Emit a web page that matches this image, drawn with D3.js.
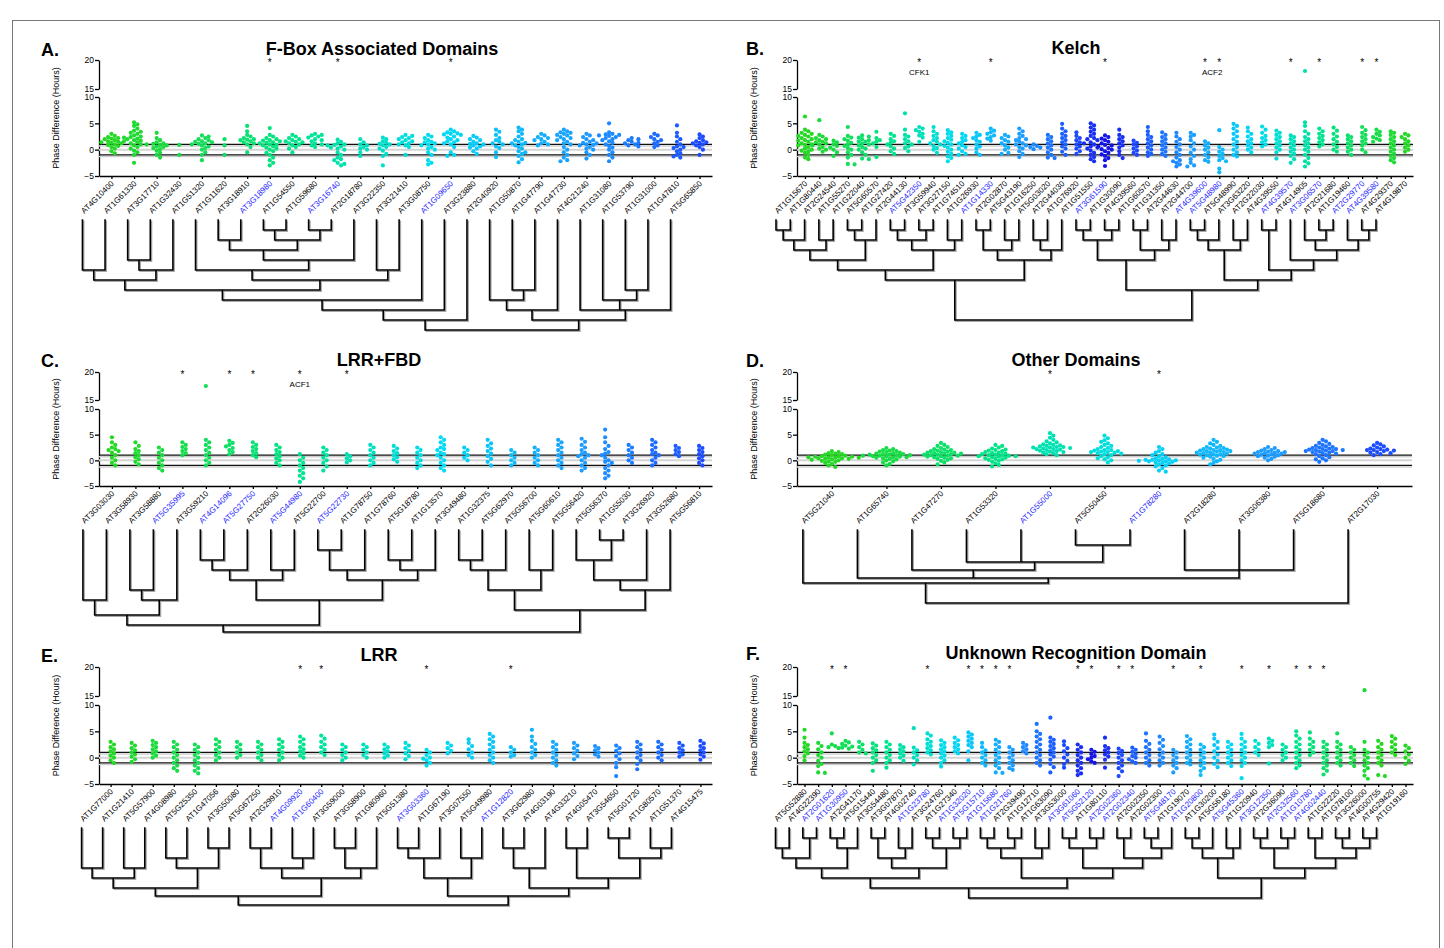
<!DOCTYPE html>
<html lang="en">
<head>
<meta charset="UTF-8">
<title>F-box phase differences</title>
<script src="https://d3js.org/d3.v7.min.js"></script>
<style>
  body { margin: 0; background: #fff; }
  svg text { font-family: Arial, "Liberation Sans", sans-serif; }
  .gene { font-size: 8px; }
  .axis text { font-size: 8.5px; font-family: Arial, "Liberation Sans", sans-serif; }
  .axis path, .axis line { stroke: #000; stroke-width: 1.3px; }
  .ytitle { font-size: 9px; }
  .ptitle { font-size: 18px; font-weight: bold; }
  .letter { font-size: 18px; font-weight: bold; }
  .star { font-size: 10px; }
  .note { font-size: 8px; }
</style>
</head>
<body>
<svg id="fig" width="1444" height="948"></svg>
<script>
// ---------- panel A : F-Box Associated Domains ----------
const genesA = ["AT4G10400","AT1G61330","AT3G17710","AT1G32430","AT1G51320","AT1G11620","AT3G18910","AT3G18980","AT1G54550","AT1G59680","AT3G16740","AT2G18780","AT3G22350","AT3G21410","AT3G08750","AT1G09650","AT3G23880","AT2G40920","AT1G50870","AT1G47790","AT1G47730","AT4G21240","AT1G31080","AT1G53790","AT1G31000","AT1G47810","AT5G65850"];
const sigA = ["AT3G18980","AT3G16740","AT1G09650"];
const valuesA = [
  "3 2.6 2.4 2.2 2 1.8 1.6 1.5 1.3 1.2 1 0.9 0.7 0.5 0.2 -0.3 -0.7 1.4 2.1",
  "5.2 4.8 4.5 4 3.6 3.2 3 2.7 2.5 2.3 2.1 2 1.8 1.6 1.4 1.2 1 0.8 0.5 0.2 -0.2 -0.5 -1 -2.5 1.7 2.4 3.4",
  "3.2 2.2 1.8 1.4 1.2 1 0.8 0.6 0.5 0.3 0.1 -0.2 -0.6 -1 -1.5 0.9 1.1",
  "0.9 -1",
  "2.7 2.5 2.2 2 1.8 1.6 1.4 1.2 1 0.8 0.6 0.3 0 -0.5 -1 -2 1.1 1.5",
  "2 0.8 -1",
  "4.5 3.5 2.8 2.5 2.2 2 1.8 1.6 1.4 1.2 1 0.5 -0.5 1.9",
  "4.1 2.8 2.5 2.2 2 1.8 1.6 1.4 1.2 1 0.8 0.6 0.4 0.2 0 -0.3 -0.6 -1 -1.5 -2 -2.5 -3 0.9 1.3 1.7",
  "2.8 2.5 2.2 2 1.8 1.6 1.4 1.2 1 0.8 0.5 0.2 -0.5 1.5",
  "3 2.8 2.5 2.3 2 1.8 1.6 1.2 1 0.8 0.5 2.7",
  "1.9 1.5 1.2 1 0.8 0.6 0.4 0.2 0 -0.5 -1 -1.5 -2 -2.5 -3 -1.8 -2.7 0.9",
  "2 1.4 1 0.8 0.5 0.2 0 -0.5 -1.2",
  "2.3 2 1.6 1.3 1 0.8 0.5 0.2 -0.2 -0.8 -1.2 -3 1.1",
  "2.8 2.6 2.4 2.2 2 1.8 1.6 1.4 1.2 1 0.8 0.5 -1",
  "2.8 2.5 2.2 1.8 1.5 1.2 1 0.8 0.5 0.2 0 -0.5 -1 -2 -2.8 -2.5 1.4",
  "3.8 3.5 3.3 3 2.8 2.5 2.3 2 1.8 1.6 1.4 1.2 1 0.5 -0.5 -1.2 -1 2.9 3.1",
  "2.6 2.3 2 1.8 1.5 1.2 1 0.8 0.6 0.4 0.2 -0.3 -0.8 1.1",
  "3.8 3.4 2.8 2.2 1.8 1.5 1.2 1 0.6 0.3 -0.5 -1.4",
  "4.2 3.8 3.5 3 2.5 2 1.8 1.5 1.2 1 0.8 0.5 0.2 -0.3 -0.8 -1.2 -1.8 -2.4 -0.5 1.3",
  "3 2.7 2.4 2.2 2 1.8 1.5 1.2 1 0.8",
  "3.8 3.5 3.2 3 2.7 2.4 2.2 2 1.8 1.5 1.2 1 0.5 0 -0.5 -1 -1.5 -2.2 -2 2.8 3.3",
  "3 2.7 2.4 2 1.8 1.5 1.2 1 0.8 0.5 0.2 0 -0.5 -1 -1.7 1.3 0.9",
  "5 3.3 3 2.8 2.6 2.4 2.2 2 1.8 1.6 1.3 1 0.7 0.4 0 -0.5 -1 -1.5 -2.2 2.9 2.7",
  "2.2 2 1.8 1.5 1.3 1.2 1 0.8 0.6",
  "3 2.7 2.4 2 1.8 1.5 1.2 0.8 0.5",
  "4.6 3.2 2.5 2 1.5 1 0.6 0.3 0 -0.3 -0.7 -1 -1.5 -1.3 0.5",
  "2.9 2.5 2.2 1.8 1.6 1.4 1.2 1 0.8 0.5 0 -1 1.3"
];
// leaves are gene indices, the number after ")" is the merge level
const treeA = "(((((((0,1)5,((2,3)4,4)5)6,((5,(((6,7)2,((8,9)1,(10,11)1)2)3,12)4)5,(13,14)5)6)7,15)8,16)9,17)10," +
              "(((18,(19,20)7)8,21)9,(22,(23,(24,25)7)8,26)9)10)11";

// ---------- panel B : Kelch ----------
const genesB = ["AT1G15670","AT1G80440","AT2G24540","AT1G55270","AT1G22040","AT5G60570","AT1G27420","AT2G44130","AT5G42350","AT3G59940","AT3G27150","AT1G74510","AT1G26930","AT1G14330","AT2G02870","AT5G43190","AT1G16250","AT5G03020","AT2G44030","AT1G76920","AT1G51550","AT3G61590","AT1G30090","AT4G39560","AT1G60570","AT1G31350","AT2G44630","AT2G44700","AT4G39600","AT5G48980","AT5G48990","AT3G63220","AT2G22030","AT4G39550","AT4G39570","AT4G14905","AT3G06570","AT2G21680","AT1G19460","AT2G29770","AT4G39580","AT4G29370","AT4G19870"];
const sigB = ["AT5G42350","AT1G14330","AT3G61590","AT4G39600","AT5G48980","AT4G39570","AT3G06570","AT2G29770","AT4G39580"];
const valuesB = [
  "6.3 3.8 3.5 3.2 3 2.8 2.5 2.2 2 1.8 1.5 1.2 1 0.8 0.5 0.2 0 -0.3 -0.6 -1 -1.5 -1.8 2.6 1.7 0.9 -0.2",
  "5.6 2.8 2.5 2.2 2 1.8 1.5 1.2 1 0.8 0.5 0.2 0 -0.4 1.4",
  "1.7 1.4 1 0.7 0.4 0 -0.5 -1.2",
  "4.3 2.6 2.3 2 1.7 1.3 1 0.7 0.3 0 -0.5 -1 -1.5 -2.8 -2.7",
  "2.7 2.5 2.3 2 1.8 1.5 1.2 1 0.8 0.5 0.2 0 -0.5 -1 -1.8 -1.7 1.6",
  "3.4 2.2 1.8 1.5 1.2 0.5 -1.4",
  "3 2.6 2 1.6 1.3 1 0.6 0.2 -0.3 -0.8",
  "6.9 3.8 2.8 2.5 2 1.6 1.2 1 0.6 0.3 -0.3",
  "4.3 4 3.7 3.4 3 2.7 2.3 1.5",
  "4.3 3.5 3 2.6 2.2 1.8 1.5 1.2 1 0.7 0.3 0 -0.6",
  "3.7 3.3 3 2.6 2.2 1.9 1.6 1.3 1 0.7 0.4 0 -0.4 -0.8 -1.3 -2.2 -1.6",
  "3 2.6 2.2 1.8 1.5 1.2 0.8 0.5 0.2 -0.3 -0.8 -1",
  "3.2 2.8 2.5 2.2 1.8 1.5 1 0.6 0.2 -0.5 -1",
  "4 3.6 3.3 3 2.7 2.4 2.1 1.7",
  "2.8 2.5 2.2 1.8 1.5 1.2 0.8 0.4 0 -0.6 -0.8",
  "4 3.5 3 2.6 2.2 1.8 1.5 1.2 0.8 0.5 0.2 -0.3 -0.8 -1.4 2 1",
  "1 0.7 0.4 0.1 0.5",
  "2.8 2.4 2 1.6 1.2 0.8 0.4 0 -0.5 -1 -1.6 -1.5",
  "4.9 4 3.5 3 2.6 2.2 1.8 1.4 1 0.6 0.2 -0.4 -1",
  "3.3 2.6 2.2 1.8 1.4 1 0.6 0.2 -0.3 -0.8",
  "5 4.6 4.2 3.8 3.4 3 2.6 2.2 1.8 1.4 1 0.6 0.2 -0.2 -0.6 -1 -1.4 -1.8 -2.2 2 1.2 0.4",
  "2.7 2.4 2.1 1.8 1.5 1.2 0.9 0.6 0.3 0 -0.3 -0.6 -0.9 -1.2 -1.6 -2 -3.1 0.1 0.8",
  "3.8 2.8 2.4 2 1.6 1.2 0.8 0.4 -0.3 -1 -1.6",
  "1.7 1.3 1 0.6 0.2 -0.2 -0.6 -1",
  "4.3 3.5 2.8 2.4 2 1.6 1.2 0.8 0.4 0 -0.5 -1.2 -0.8",
  "3.3 2.8 2.4 2 1.6 1.2 0.8 0.4 0 -0.4 -0.8 -1.2",
  "3.2 2.5 2 1.5 1 0.5 0 -0.5 -1 -1.5 -2 -2.5 -2.8 -3.2 -2.2",
  "3.2 2.5 1.8 1.2 0.6 0 -0.6 -1.2 -1.8 -2.5 -3 -3.2 2.8",
  "1.6 1.2 0.8 0.4 0 -0.5 -1 -1.5 -2 -2.3",
  "3.7 0.5 0 -0.4 -0.8 -1.2 -1.6 -2 -2.2 -4.3 -3.6",
  "4.9 4.5 4 3.5 3 2.5 2 1.5 1 0.5 0 -0.5 -1.3 -1",
  "4.2 3.5 3 2.5 2 1.6 1.2 0.8 0.4 0 -0.5",
  "4.4 3.8 3.2 2.6 2.2 1.8 1.4 1 0.6",
  "3.6 3.2 2.8 2.4 2 1.6 1.2 0.8 0.4 0 -0.5 -1.7",
  "2.7 2.4 2 1.6 1.2 0.8 0.4 0 -0.4 -0.8 -1.2 -1.8 -2.5",
  "18.1 5.2 4.5 3.5 3 2.4 2 1.6 1.2 0.8 0.4 0 -0.4 -1 -1.6 -2.2 -2.6 -3.2",
  "4 3.5 3 2.6 2.2 1.8 1.4 1 0.6",
  "4.2 3.6 3 2.5 2 1.5 1 0.5 0 -0.4",
  "2.7 2.4 2 1.6 1.2 0.8 0.4 0 -0.4 -1",
  "4.3 3.7 3.2 2.8 2.4 2 1.6 1.2 0.8 0 -0.5",
  "3.8 3.4 3 2.7 2.4 2.1 1.8 1.5",
  "3.5 3.2 2.8 2.4 2 1.6 1.2 0.8 0.4 0 -0.4 -0.8 -1.2 -1.6 -2 -2.4",
  "3 2.7 2.4 2 1.6 1.2 0.8 0.4 0 -0.4"
];
const treeB = "(((((((0,1)1,2)2,(3,4)2)3,((5,6)1,7)2)4,(((8,9)1,(10,11)1)2,(12,13)2)3)5,(((14,15)1,(16,17)2)3,((18,19)2,20)3)4)6," +
              "((((21,22)1,(23,24)1)2,((25,26)1,(27,28)2)3)4,((((29,30)1,31)2,(32,33)2)3,((34,35)1,(36,((37,(38,39)1)2,(40,(41,42)1)2)3)4)5)6)7)10";

// ---------- panel C : LRR+FBD ----------
const genesC = ["AT3G03030","AT3G58930","AT3G58880","AT5G35995","AT3G59210","AT4G14096","AT5G27750","AT2G26030","AT5G44980","AT5G22700","AT5G22730","AT1G78750","AT1G78760","AT5G18780","AT1G13570","AT3G49480","AT1G32375","AT5G62970","AT5G56700","AT5G60610","AT5G56420","AT5G56370","AT1G55030","AT3G26920","AT3G52680","AT5G56810"];
const sigC = ["AT5G35995","AT4G14096","AT5G27750","AT5G44980","AT5G22730"];
const valuesC = [
  "4.5 3.5 3 2.5 2 1.5 1 0.5 0 -0.5 -1 1.8 2.2",
  "3.5 2.8 2.2 1.8 1.4 1 0.6 0.2 -0.3 -0.8",
  "2.5 2 1.5 1 0.5 0 -0.5 -1 -1.5 -2",
  "3.5 3 2.6 2.2 1.8 1.4 1",
  "17.5 4 3.5 3 2.5 2 1.5 1 0.5 0 -0.5 -1",
  "3.8 3.4 3 2.7 2.4 2 1.6 1.2",
  "3.5 3 2.6 2.2 1.8 1.4 1 0.6",
  "3 2.5 2 1.6 1.2 0.8 0.4 0 -0.5 -1",
  "1.2 0.5 0 -0.5 -1 -1.5 -2 -2.5 -3 -3.5 -4.2",
  "2.5 2 1.5 1 0.5 0 -0.5 -1.2 -2",
  "1.2 0.8 0.4 0 -0.4",
  "3 2.5 2 1.5 1 0.5 0 -0.5 -1",
  "2.8 2.3 1.8 1.4 1 0.6 0.2 -0.3",
  "2.5 2 1.5 1 0.5 0 -0.5 -1 -1.5",
  "4.5 4 3.5 3 2.5 2 1.5 1 0.5 0 -0.5 -1 -1.5 -2 1.2 2.2",
  "2.5 2 1.5 1 0.5 0",
  "4 3.3 2.8 2.3 1.8 1.3 0.8 0.3 -0.3 -1",
  "2 1.5 1 0.5 0 -0.5 -1",
  "2.5 2 1.5 1 0.5 0 -0.5 -1",
  "4 3.5 3 2.5 2 1.5 1 0.5 0 -0.5 -1 -1.5",
  "4.2 3.6 3 2.5 2 1.5 1 0.5 0 -0.5 -1 -1.5 -2 1.2 0.8",
  "6 4.5 3.5 2.8 2.2 1.6 1 0.5 0 -0.5 -1 -1.5 -2 -2.5 -3 -3.5 1.3 -0.3",
  "3 2.5 2 1.5 1 0.5 0 -0.5",
  "4 3.5 3 2.5 2 1.5 1 0.5 0 -0.5 -1 1.2",
  "2.8 2.4 2 1.6 1.2 0.8",
  "2.8 2.4 2 1.6 1.2 0.8 0.4 0 -0.5 -1"
];
const treeC = "((((0,1)7,((2,3)6,4)7)8.5,((((5,6)3,7)4,(8,9)4)5,(((10,11)2,12)4,((13,14)3,15)4)5)7)9.5," +
              "((((16,17)3,18)4,(19,20)4)6,(((21,(22,23)1)3,24)5,25)6)8)10.2";

// ---------- panel D : Other Domains ----------
const genesD = ["AT5G21040","AT1G65740","AT1G47270","AT1G53320","AT1G55000","AT5G50450","AT1G78280","AT2G18280","AT3G06380","AT5G18680","AT2G17030"];
const sigD = ["AT1G55000","AT1G78280"];
const valuesD = [
  "1.8 1.6 1.4 1.3 1.2 1.1 1 0.9 0.8 0.8 0.7 0.6 0.6 0.5 0.5 0.4 0.3 0.3 0.2 0.1 0 -0.1 -0.2 -0.3 -0.5 -0.7 -1 -1.3 0.4 0.7",
  "2.4 2.2 2 1.9 1.8 1.7 1.6 1.5 1.4 1.3 1.2 1.2 1.1 1 1 0.9 0.8 0.8 0.7 0.6 0.5 0.4 0.3 0.2 0 -0.2 -0.4 -0.7 -1 0.9 1.1 0.6",
  "3.4 3 2.8 2.6 2.4 2.2 2.1 2 1.9 1.8 1.7 1.6 1.5 1.4 1.3 1.2 1.1 1 0.9 0.8 0.7 0.6 0.5 0.4 0.3 0.1 -0.1 -0.4 -0.8 1.3 1.5 0.9 1.1",
  "3 2.8 2.5 2.3 2.1 2 1.9 1.8 1.6 1.5 1.4 1.3 1.2 1.1 1 0.9 0.8 0.7 0.6 0.5 0.4 0.3 0.2 0.1 -0.1 -0.3 -0.6 -0.9 -1.2 1 0.8",
  "5.3 4.8 4.4 4 3.7 3.5 3.3 3.1 3 2.9 2.8 2.7 2.6 2.5 2.4 2.3 2.2 2.1 2 1.9 1.8 1.7 1.6 1.5 1.4 1.2 1 2.5 2.6 2.2",
  "4.8 4.3 3.9 3.6 3.3 3 2.8 2.6 2.4 2.2 2 1.9 1.8 1.7 1.6 1.5 1.4 1.3 1.2 1 0.8 0.6 0.4 0.2 0 -0.4 1.6 2",
  "2.6 2.2 1.8 1.5 1.2 1 0.8 0.6 0.4 0.3 0.2 0.1 0 -0.1 -0.2 -0.3 -0.4 -0.5 -0.6 -0.8 -1 -1.2 -1.5 -2 -2.2 0 0.1 -0.2",
  "4 3.6 3.3 3 2.8 2.6 2.5 2.4 2.3 2.2 2.1 2 1.9 1.8 1.7 1.6 1.5 1.4 1.3 1.2 1.1 1 0.9 0.8 0.7 0.5 0.3 0.1 -0.2 -0.5 -0.8 1.5 1.8 2 1.2",
  "2.6 2.4 2.2 2 1.9 1.8 1.7 1.6 1.5 1.4 1.3 1.2 1.1 1 0.9 0.8 0.7 0.5 0.3 0 1.3 1.6",
  "4 3.7 3.4 3.2 3 2.8 2.7 2.6 2.5 2.4 2.3 2.2 2.1 2 1.9 1.8 1.7 1.6 1.5 1.4 1.3 1.2 1 0.8 0.6 0.4 0.2 0 -0.3 2.2 2 1.8",
  "3.4 3.1 2.9 2.7 2.5 2.3 2.2 2.1 2 1.9 1.8 1.6 1.5 1.4 1.2 1 2"
];
const treeD = "((0,(1,(2,(3,4,(5,6)1.5)3.2)4,(7,8,9)4)4.8)5.3,10)7.3";

// ---------- panel E : LRR ----------
const genesE = ["AT1G77000","AT1G21410","AT5G57900","AT4G08980","AT5G25350","AT1G47056","AT3G50080","AT5G67250","AT2G29910","AT4G09920","AT1G60400","AT3G59000","AT3G58900","AT1G80960","AT5G51380","AT3G03360","AT1G67190","AT3G07550","AT5G49980","AT1G12820","AT3G62980","AT4G03190","AT4G33210","AT4G05470","AT3G54650","AT5G01720","AT1G80570","AT1G51370","AT4G15475"];
const sigE = ["AT4G09920","AT1G60400","AT3G03360","AT1G12820"];
const valuesE = [
  "3 2.5 2 1.6 1.2 0.8 0.4 0 -0.5 -1",
  "2.8 2.3 1.8 1.4 1 0.6 0.2 -0.3 -0.8",
  "3.2 2.8 2.4 2 1.6 1.2 0.8 0.4 0",
  "3 2.5 2 1.5 1 0.5 0 -0.5 -1 -1.5 -2.5 -2",
  "2.5 2 1.5 1 0.5 0 -0.5 -1 -1.5 -2 -2.5 -3",
  "3.5 3 2.5 2 1.5 1 0.5 0 -0.5",
  "3 2.5 2 1.5 1 0.5 0",
  "3 2.5 2 1.5 1 0.5 0 -0.5",
  "3.5 3 2.5 2 1.5 1 0.5 0 -0.5",
  "4 3.5 3 2.5 2 1.6 1.2 0.8 0.4 0",
  "4.2 3.6 3 2.5 2 1.5 1 0.5",
  "2.5 2 1.5 1 0.5 0 -0.5",
  "2.5 2 1.5 1 0.5 0",
  "2.5 2 1.6 1.2 0.8 0.4 0",
  "2.8 2.3 1.8 1.3 0.8 0.3 -0.3",
  "1.5 1 0.5 0 -0.5 -1 -1.5 -0.2",
  "2.8 2.3 1.8 1.3 0.8",
  "3.5 2.8 2.2 1.6 1 0.5 0",
  "4.5 4 3.5 3 2.5 2 1.5 1 0.5 0 -0.5 -1",
  "2 1.5 1 0.5 0.2",
  "5.3 4 3.2 2.6 2 1.5 1 0.5 0",
  "3 2.5 2 1.5 1 0.5 0 -0.5 -1 -1.5",
  "2.8 2.3 1.8 1.3 0.8 0.3 -0.3",
  "2.2 1.8 1.4 1 0.6 0.2",
  "2.3 1.8 1.3 0.8 0.3 -0.3 -1 -1.8 -3.5",
  "3 2.5 2 1.5 1 0.5 0 -0.5 -1.2 -2.2",
  "3 2.5 2 1.5 1 0.5 0 -0.5",
  "2.8 2.3 1.8 1.4 1 0.6 0.2",
  "3.2 2.7 2.2 1.8 1.4 1 0.6 0.2 -0.4"
];
const treeE = "(((((0,1)4,(2,3)4)5,((4,5)3,(6,7)2)4)6,(((8,9)2,(10,11)3)4,((12,13)2,14)4)5)6.8," +
              "((((15,16)2,17)3,(18,19)3)5,(((20,21)2,22)4,((23,24)2,((25,26)1,(27,28)2)3)5)6)6.8)7.7";

// ---------- panel F : Unknown Recognition Domain ----------
const genesF = ["AT5G52880","AT4G22390","AT2G01620","AT1G30950","AT2G41170","AT5G15440","AT3G54480","AT3G07870","AT4G02740","AT1G23780","AT3G24760","AT1G27340","AT1G32020","AT5G15710","AT1G15680","AT1G21760","AT2G39490","AT1G12710","AT1G63090","AT3G53000","AT3G61060","AT5G52120","AT1G80110","AT2G02360","AT2G02340","AT2G02350","AT2G02300","AT5G48170","AT1G19070","AT1G20800","AT1G30200","AT5G56180","AT5G45360","AT1G20940","AT3G12350","AT2G36090","AT2G32560","AT1G10780","AT4G02440","AT1G22220","AT1G78100","AT3G26000","AT4G00755","AT4G29420","AT1G19160"];
const sigF = ["AT2G01620","AT1G30950","AT1G23780","AT1G32020","AT5G15710","AT1G15680","AT1G21760","AT3G61060","AT5G52120","AT2G02360","AT2G02340","AT5G48170","AT1G20800","AT5G45360","AT3G12350","AT2G32560","AT1G10780","AT4G02440"];
const valuesF = [
  "5.3 3.8 2.8 2.4 2 1.6 1.2 0.8 0.3 -0.5",
  "2.8 2.2 1.6 1 0.5 0 -0.6 -1.2 -1.6 -2.8 -2.9",
  "4.6 2.5 2.2 2 1.8",
  "3.2 2.9 2.6 2.3 2.1 1.9 1.7",
  "3 2.5 2 1.5 1 0.8",
  "2.7 2.3 1.8 1.4 1 0.5 0 -0.5 -1 -2.5",
  "3 2.5 2 1.5 1 0.5 0 -0.5 -1 -1.9",
  "2.4 2 1.6 1.2 0.8 0.4 0 -0.6",
  "5.6 1.9 1.4 1 0.5 0 -0.5 -1.3",
  "4.6 4.2 3.5 3 2.6 2.2 1.8 1.4 1 0.6",
  "3.3 2.8 2.4 2 1.6 1.2 0.8 0.4 0 -0.5 -1 -1.7",
  "3.8 3.3 2.8 2.4 2 1.6 1.2 0.8",
  "4.8 4.4 4 3.6 3.2 2.8 2.4 2 1.2 -0.5",
  "2.8 2 1.4 1 0.5 0 -0.5 -1 -1.5",
  "3.4 3 2.5 2 1.5 1 0.5 0 -0.5 -1 -1.5 -2 -2.8 -2.9",
  "2 1.5 1 0.5 0 -0.5 -1 -1.5 -2 -2.3",
  "2.8 2.4 2 1.6 1.2 0.8",
  "6.4 5 4.5 4 3.5 3 2.5 2 1.5 1 0.5 0 -0.5 -1.5 -1",
  "7.6 3.8 3.4 3 2.6 2.2 1.8 1.4 1 0.6 0.2 -0.4 -1.2 -1.8 -2.8",
  "3.1 2.4 1.8 1.2 0.6 0 -0.6 -1.2 -1.9",
  "2.5 2 1.5 1 0.5 0 -0.5 -1 -1.5 -2 -2.5 -3 -3.3",
  "1.5 1.1 0.7 0.3 0 -0.3 -0.7 -1",
  "3.8 2.2 1.8 1.4 1 0.6 0.2 -0.4 -1.9",
  "1.7 1.3 0.9 0.5 0 -0.5 -1 -1.5 -2 -2.6 -3.5",
  "1.9 1.5 1.1 0.7 0.3 0 -0.3 -0.7 -1",
  "4.6 3.2 2.6 2 1.5 1 0.5 0 -0.5 -1 -1.5",
  "4 3.4 2.8 2.2 1.6 1 0.5 0 -0.5 -1 -1.5",
  "1.5 1 0.5 0 -0.5 -1 -1.5 -2 -2.8",
  "4.1 3.5 3 2.5 2 1.5 1 0.5 0 -0.5 -1 -1.3",
  "2.5 2 1.5 1 0.5 0 -0.5 -1 -1.5 -2 -2.5 -3.3",
  "4.4 3.6 3 2.4 1.8 1.2 0.6 0 -0.6 -1.2 -1.8",
  "3 2.5 2 1.5 1 0.5 0 -0.5 -1 -1.6",
  "4.5 3.6 3 2.5 2 1.5 1 0.5 0 -0.5 -1 -1.6 -3.9",
  "3.2 2.6 2 1.5 1 0.5",
  "3.6 3.2 2.8 2.4 2 -1.1",
  "2.5 2 1.5 1 0.5 0 -0.5",
  "5 4.2 3.6 3 2.5 2 1.5 1 0.5 0 -0.5 -1 -1.5 -2",
  "4.8 3.6 3 2.5 2 1.5 1 0.5",
  "3 2.5 2 1.5 1 0.5 0 -0.5 -1 -1.5 -2 -2.5 -3.2",
  "4.6 3 2.5 2 1.5 1 0.5 0 -0.5 -1 -1.5",
  "2 1.5 1 0.5 0 -0.5 -1 -1.6",
  "16 3 1.5 1 0.5 0 -0.5 -1 -1.5 -2 -2.5 -3.4 -4",
  "3.2 2.6 2 1.5 1 0.5 0 -0.5 -1 -1.5 -3.5 -3.3",
  "4.1 3.6 3 2.5 2 1.5 1 0.5",
  "2.3 1.8 1.2 0.6 0 -0.6 -1.2"
];
const treeF = "((((((0,1)2,(2,3)1)3,((4,5)1,6)2)4,(((7,8)1,(9,10)2)3,((11,12)1,(13,14)1)2)4)5," +
              "((((15,16)1,(17,18)1)2,(19,20)2)3,(((21,22)1,(23,24)1)2,((25,26)1,((27,28)1,29)2)3)4)5)6," +
              "((((30,31)1,32)2,(33,34)2)3,(((35,36)1,(37,38)1)2,((39,40)1,((41,42)1,(43,44)1)2)3)4)5)7";

// ---------- layout ----------
const panels = [
  {letter: "A.", title: "F-Box Associated Domains", genes: genesA, values: valuesA, sig: sigA, tree: treeA,
   axisX: 99, axisEnd: 712, y20: 60, y15: 89, y10: 97, yB: 176, pad: 0.55, letterX: 41, titleX: 382, titleY: 55, ramp: "linear", notes: []},
  {letter: "B.", title: "Kelch", genes: genesB, values: valuesB, sig: sigB, tree: treeB,
   axisX: 797, axisEnd: 1413, y20: 60, y15: 89, y10: 97, yB: 176, pad: 0.56, letterX: 746, titleX: 1076, titleY: 54, ramp: "mirror",
   notes: [{a: 8, b: 8, text: "CFK1"}, {a: 28, b: 29, text: "ACF2"}]},
  {letter: "C.", title: "LRR+FBD", genes: genesC, values: valuesC, sig: sigC, tree: treeC,
   axisX: 99, axisEnd: 712, y20: 372, y15: 400, y10: 409, yB: 486, pad: 0.55, letterX: 41, titleX: 379, titleY: 366, ramp: "linear",
   notes: [{a: 8, b: 8, text: "ACF1"}]},
  {letter: "D.", title: "Other Domains", genes: genesD, values: valuesD, sig: sigD, tree: treeD,
   axisX: 797, axisEnd: 1412, y20: 372, y15: 400, y10: 409, yB: 486, pad: 0.64, letterX: 746, titleX: 1076, titleY: 366, ramp: "linear", notes: []},
  {letter: "E.", title: "LRR", genes: genesE, values: valuesE, sig: sigE, tree: treeE,
   axisX: 99, axisEnd: 712, y20: 667, y15: 696, y10: 705, yB: 784, pad: 0.55, letterX: 41, titleX: 379, titleY: 661, ramp: "linear", notes: []},
  {letter: "F.", title: "Unknown Recognition Domain", genes: genesF, values: valuesF, sig: sigF, tree: treeF,
   axisX: 797, axisEnd: 1413, y20: 667, y15: 696, y10: 705, yB: 784, pad: 0.55, letterX: 746, titleX: 1076, titleY: 659, ramp: "mirror", notes: []}
];

const ramp = d3.scaleLinear()
  .domain([0, 0.28, 0.5, 0.72, 0.9, 1])
  .range(["#24d824", "#00e48c", "#00dcf4", "#1c9cff", "#1c4cff", "#1414e6"]);

const svg = d3.select("#fig");
svg.append("rect").attr("x", 12.5).attr("y", 20.5).attr("width", 1427).attr("height", 940)
  .attr("fill", "none").attr("stroke", "#777").attr("stroke-width", 1);

function parseTree(s) {
  s = s.replace(/\s/g, "");
  let i = 0;
  function num() { let t = ""; while (i < s.length && /[0-9.]/.test(s[i])) t += s[i++]; return +t; }
  function node() {
    if (s[i] === "(") {
      i++;
      const children = [node()];
      while (s[i] === ",") { i++; children.push(node()); }
      i++;
      return {children, level: num()};
    }
    return {leaf: num(), level: 0};
  }
  return node();
}

// deterministic beeswarm: each dot takes the nearest free slot beside its column
function swarm(vals, cx, y, r) {
  const placed = [];
  const sorted = vals.slice().sort((a, b) => b - a);
  sorted.forEach(v => {
    const py = y(v);
    for (let k = 0; k < 60; k++) {
      const off = k === 0 ? 0 : (k % 2 ? 1 : -1) * Math.ceil(k / 2) * r * 1.6;
      const px = cx + off;
      if (placed.every(p => (p.x - px) ** 2 + (p.y - py) ** 2 >= (r * 1.75) ** 2)) {
        placed.push({x: px, y: py, v});
        break;
      }
    }
  });
  return placed;
}

panels.forEach(p => {
  const g = svg.append("g");
  const n = p.genes.length;
  const x = d3.scalePoint().domain(d3.range(n)).range([p.axisX, p.axisEnd]).padding(p.pad);
  const yHi = d3.scaleLinear().domain([15, 20]).range([p.y15, p.y20]);
  const yLo = d3.scaleLinear().domain([-5, 10]).range([p.yB, p.y10]);
  const y = v => v > 12 ? yHi(v) : yLo(v);
  const colorOf = i => {
    if (p.ramp === "linear") return ramp(0.9 * i / (n - 1));
    const c = 21;
    return ramp(Math.max(0, 1 - Math.abs(i - c) / c));
  };

  // titles
  g.append("text").attr("class", "letter").attr("x", p.letterX).attr("y", p.titleY + 1).text(p.letter);
  g.append("text").attr("class", "ptitle").attr("x", p.titleX).attr("y", p.titleY)
    .attr("text-anchor", "middle").text(p.title);

  // y axis with break
  g.append("g").attr("class", "axis").attr("transform", `translate(${p.axisX},0)`)
    .call(d3.axisLeft(yHi).tickValues([15, 20]).tickFormat(d3.format("d")).tickSize(4).tickSizeOuter(0));
  g.append("g").attr("class", "axis").attr("transform", `translate(${p.axisX},0)`)
    .call(d3.axisLeft(yLo).tickValues([-5, 0, 5, 10]).tickFormat(d3.format("d")).tickSize(4).tickSizeOuter(0));
  g.selectAll(".axis .tick text").attr("x", -5);
  g.append("text").attr("class", "ytitle")
    .attr("transform", `translate(${p.axisX - 40},${(p.y20 + p.yB) / 2}) rotate(-90)`)
    .attr("text-anchor", "middle").text("Phase Difference (Hours)");

  // x axis
  g.append("g").attr("class", "axis").attr("transform", `translate(0,${p.yB})`)
    .call(d3.axisBottom(x).tickSize(3).tickSizeOuter(0).tickFormat(""));

  // reference lines
  g.append("line").attr("x1", p.axisX).attr("x2", p.axisEnd).attr("y1", yLo(0)).attr("y2", yLo(0))
    .attr("stroke", "#d4d4d4").attr("stroke-width", 2);
  [1, -1].forEach(v => {
    g.append("line").attr("x1", p.axisX).attr("x2", p.axisEnd).attr("y1", yLo(v) + 1.5).attr("y2", yLo(v) + 1.5)
      .attr("stroke", "#cfcfcf").attr("stroke-width", 1.5);
    g.append("line").attr("x1", p.axisX).attr("x2", p.axisEnd).attr("y1", yLo(v)).attr("y2", yLo(v))
      .attr("stroke", "#111").attr("stroke-width", 1.3);
  });

  // points
  p.values.forEach((s, i) => {
    const vals = s.trim().split(/\s+/).map(Number);
    const pts = swarm(vals, x(i), y, 2.1);
    g.append("g").selectAll("circle").data(pts).join("circle")
      .attr("cx", d => d.x).attr("cy", d => d.y).attr("r", 2.1)
      .attr("fill", colorOf(i));
  });

  // stars + notes
  p.genes.forEach((gene, i) => {
    if (p.sig.includes(gene)) {
      g.append("text").attr("class", "star").attr("x", x(i)).attr("y", p.y20 + 5.5)
        .attr("text-anchor", "middle").text("*");
    }
  });
  p.notes.forEach(nt => {
    g.append("text").attr("class", "note").attr("x", (x(nt.a) + x(nt.b)) / 2).attr("y", p.y20 + 15)
      .attr("text-anchor", "middle").text(nt.text);
  });

  // gene labels
  g.selectAll(".gene").data(p.genes).join("text")
    .attr("class", "gene")
    .attr("transform", (d, i) => `translate(${x(i) + 3},${p.yB + 8}) rotate(-45)`)
    .attr("text-anchor", "end")
    .attr("fill", d => p.sig.includes(d) ? "#2626ff" : "#000")
    .text(d => d);

  // dendrogram
  const leafTop = p.yB + 44;
  const lev = d3.scaleLinear().domain([0, 1]).range([leafTop, leafTop + 10]);
  const root = d3.hierarchy(parseTree(p.tree));
  root.eachAfter(d => {
    if (!d.children) d.x = x(d.data.leaf) - 29;
    else d.x = (d.children[0].x + d.children[d.children.length - 1].x) / 2;
    d.y = lev(d.data.level);
  });
  const segs = [];
  root.each(d => {
    if (d.children) {
      segs.push([d.children[0].x, d.y, d.children[d.children.length - 1].x, d.y]);
      d.children.forEach(c => segs.push([c.x, c.y, c.x, d.y]));
    }
  });
  const path = segs.map(s => `M${s[0]},${s[1]}L${s[2]},${s[3]}`).join("");
  g.append("path").attr("d", path).attr("transform", "translate(1.2,1.2)")
    .attr("fill", "none").attr("stroke", "#a8a8a8").attr("stroke-width", 1.6).attr("stroke-linecap", "square");
  g.append("path").attr("d", path)
    .attr("fill", "none").attr("stroke", "#000").attr("stroke-width", 1.6).attr("stroke-linecap", "square");
});
</script>
</body>
</html>
